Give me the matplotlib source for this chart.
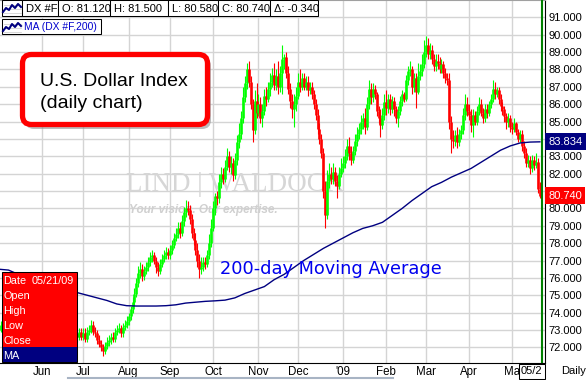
import numpy as np
import pandas as pd
import matplotlib
matplotlib.use('Agg')
import matplotlib.pyplot as plt
from matplotlib.patches import Rectangle, FancyBboxPatch
from matplotlib.lines import Line2D
from matplotlib.transforms import IdentityTransform, blended_transform_factory

plt.rcParams['font.family'] = ['Liberation Sans', 'DejaVu Sans']

W, H = 587, 380

# trading days, 05/01/08 .. 05/21/09
dates = pd.bdate_range('2008-05-01', '2009-05-21')

first_open = 72.8
close = [
    73.0, 73.3, 73.1, 72.8, 73.3, 73.4, 72.9, 72.8, 73.2, 73.2, 73.3, 72.6, 72.5, 72.0, 71.9, 72.2, 72.0, 72.0, 72.3, 72.6, 73.1, 73.1,
    72.6, 73.0, 73.2, 73.7, 72.2, 72.8, 73.6, 73.3, 74.0, 73.8, 73.5, 73.3, 73.0, 73.5, 72.7, 73.1, 73.3, 72.8, 72.6, 72.9, 72.6,
    72.8, 72.5, 72.9, 73.0, 73.3, 72.9, 72.8, 72.4, 72.2, 72.0, 71.8, 72.1, 72.3, 72.4, 72.6, 72.5, 72.9, 73.0, 73.1, 72.8, 73.2, 73.3, 73.5,
    73.8, 74.2, 74.6, 75.1, 75.7, 76.3, 76.5, 76.1, 76.4, 76.6, 76.9, 77.2, 77.3, 77.0, 76.6, 76.4, 76.8, 77.1, 77.3, 77.5, 77.3,
    77.6, 77.9, 78.3, 78.5, 78.9, 78.6, 79.3, 79.8, 80.0, 79.9, 79.4, 78.6, 78.2, 77.6, 77.0, 76.5, 76.6, 76.9, 76.8, 77.3, 78.0, 78.9,
    80.0, 80.7, 80.6, 81.5, 82.0, 81.7, 82.4, 83.0, 82.4, 82.6, 81.9, 82.8, 83.8, 84.3, 85.2, 86.4, 87.2, 88.0, 87.3, 86.0, 84.5, 86.2, 85.5,
    86.0, 85.2, 85.6, 86.5, 86.3, 86.9, 87.3, 87.7, 87.1, 87.6, 87.0, 87.8, 88.6, 88.7, 87.8, 86.9, 86.2, 85.7, 86.0, 86.5,
    87.3, 87.0, 87.5, 87.0, 87.3, 86.8, 87.0, 86.6, 86.0, 85.4, 84.6, 84.0, 83.2, 81.0, 79.6, 81.6, 82.0, 81.7, 82.1, 81.6, 81.3, 82.0, 82.3,
    82.6, 83.0, 83.6, 83.2, 82.8, 83.3, 83.9, 84.3, 84.6, 85.0, 85.2, 84.7, 86.0, 86.9, 86.4, 86.9, 86.6, 85.6, 85.2, 84.8, 85.4, 86.1,
    85.8, 86.3, 85.7, 86.2, 85.7, 85.2, 85.6, 86.2, 86.6, 86.3, 87.4, 87.9, 88.0, 87.0, 87.5, 86.7, 87.6, 87.9, 88.3, 89.0,
    89.4, 88.9, 89.1, 88.6, 88.2, 88.5, 88.4, 88.0, 88.3, 87.8, 87.5, 87.4, 85.0, 84.0, 83.9, 84.2, 83.8, 84.3, 84.5, 85.4, 86.0, 85.6,
    85.4, 84.8, 85.4, 85.0, 85.6, 86.0, 85.5, 85.2, 85.7, 85.5, 86.0, 86.3, 86.9, 86.6, 86.8, 86.3, 85.9, 85.7, 85.3, 85.0, 85.2, 84.7,
    84.6, 84.9, 84.4, 84.0, 84.3, 83.6, 83.2, 82.6, 82.8, 82.3, 82.8, 82.5, 82.7, 81.12, 80.74,
]
high = [
    73.3, 73.5, 73.5, 73.3, 73.5, 73.7, 73.6, 73.1, 73.4, 73.5, 73.6, 73.4, 72.9, 72.7, 72.3, 72.5, 72.4, 72.3, 72.6, 72.8, 73.3, 73.4,
    73.3, 73.2, 73.4, 73.9, 73.9, 73.0, 73.8, 73.8, 74.2, 74.2, 74.0, 73.7, 73.5, 73.7, 73.6, 73.3, 73.5, 73.5, 73.0, 73.1, 73.1,
    73.1, 73.1, 73.2, 73.3, 73.6, 73.5, 73.2, 73.0, 72.7, 72.4, 72.2, 72.3, 72.6, 72.7, 72.8, 72.9, 73.1, 73.3, 73.4, 73.3, 73.4, 73.6, 73.8,
    74.0, 74.4, 74.9, 75.4, 76.0, 76.7, 76.9, 76.8, 76.7, 76.9, 77.2, 77.5, 77.6, 77.5, 77.2, 76.9, 77.1, 77.4, 77.6, 77.8, 77.7,
    77.9, 78.2, 78.6, 78.9, 79.2, 79.2, 79.6, 80.1, 80.5, 80.4, 80.2, 79.7, 78.9, 78.6, 78.0, 77.4, 77.2, 77.2, 77.2, 77.6, 78.5, 79.4,
    80.4, 80.9, 81.0, 82.0, 82.4, 82.3, 82.8, 83.5, 83.3, 83.0, 82.9, 83.2, 84.2, 84.9, 85.6, 87.0, 87.6, 88.4, 88.5, 87.6, 86.3, 86.8, 87.2,
    86.6, 86.4, 86.0, 86.9, 87.0, 87.3, 87.8, 88.1, 88.4, 88.0, 88.5, 88.2, 89.4, 88.9, 89.0, 88.2, 87.2, 86.6, 86.6, 87.0,
    87.8, 88.0, 87.8, 87.8, 87.6, 87.6, 87.3, 87.3, 86.8, 86.3, 85.7, 84.9, 84.3, 83.5, 81.6, 82.2, 82.6, 82.4, 82.6, 82.4, 81.9, 82.4, 82.9,
    83.0, 83.4, 84.0, 84.1, 83.6, 83.6, 84.3, 84.7, 84.9, 85.4, 85.5, 85.8, 86.4, 87.4, 87.2, 87.2, 87.1, 86.7, 85.9, 85.7, 85.8, 86.6,
    86.8, 86.6, 86.6, 86.5, 86.4, 85.9, 85.9, 86.5, 86.8, 86.7, 87.7, 88.2, 88.5, 88.2, 87.8, 87.8, 88.4, 88.3, 88.9, 89.7,
    89.9, 89.8, 89.5, 89.4, 88.9, 88.9, 88.9, 88.7, 88.6, 88.5, 88.1, 87.8, 87.8, 85.3, 84.5, 84.5, 84.7, 84.6, 84.8, 85.8, 86.6, 86.4,
    86.0, 85.7, 85.7, 85.6, 85.9, 86.4, 86.3, 85.8, 86.0, 86.0, 86.2, 86.6, 87.4, 87.3, 87.0, 87.0, 86.6, 86.1, 85.9, 85.5, 85.5, 85.4,
    85.0, 85.2, 85.0, 84.6, 84.5, 84.5, 83.9, 83.5, 83.1, 83.0, 83.1, 83.0, 83.2, 82.9, 81.5,
]
low = [
    72.7, 72.9, 72.9, 72.6, 72.7, 73.1, 72.7, 72.6, 72.6, 73.0, 73.0, 72.4, 72.3, 71.8, 71.7, 71.8, 71.8, 71.8, 71.9, 72.1, 72.4, 72.8,
    72.4, 72.4, 72.8, 73.0, 72.0, 72.0, 72.6, 73.1, 73.1, 73.6, 73.3, 73.1, 72.8, 72.8, 72.5, 72.5, 72.9, 72.6, 72.3, 72.4, 72.4,
    72.4, 72.3, 72.3, 72.7, 72.8, 72.7, 72.6, 72.2, 72.0, 71.8, 71.5, 71.6, 71.9, 72.1, 72.2, 72.3, 72.3, 72.7, 72.8, 72.6, 72.6, 73.0, 73.1,
    73.3, 73.6, 74.0, 74.4, 74.9, 75.5, 76.0, 75.8, 75.9, 76.2, 76.4, 76.7, 76.9, 76.8, 76.3, 76.1, 76.2, 76.6, 76.9, 77.1, 77.1,
    77.1, 77.4, 77.7, 78.1, 78.3, 78.3, 78.4, 79.0, 79.5, 79.6, 79.1, 78.3, 77.9, 77.3, 76.6, 76.0, 76.2, 76.4, 76.5, 76.6, 77.1, 77.8,
    78.7, 79.6, 80.2, 80.3, 81.2, 81.4, 81.5, 82.2, 82.1, 82.0, 81.6, 81.7, 82.5, 83.5, 84.0, 84.9, 86.1, 86.9, 87.0, 85.7, 83.8, 84.3, 85.2,
    85.3, 84.9, 84.7, 85.4, 85.9, 86.1, 86.5, 87.0, 86.8, 86.8, 86.6, 86.7, 86.6, 88.0, 87.5, 86.6, 85.8, 85.2, 84.7, 85.6,
    86.3, 86.7, 86.8, 86.8, 86.8, 86.5, 86.6, 86.3, 85.7, 85.1, 84.3, 83.7, 82.9, 80.6, 78.9, 79.4, 81.2, 81.4, 81.4, 81.3, 80.6, 81.1, 81.8,
    82.1, 82.3, 82.8, 82.8, 82.5, 82.6, 83.1, 83.6, 84.0, 84.3, 84.6, 84.3, 84.5, 85.7, 86.0, 86.1, 86.3, 85.3, 84.9, 84.1, 84.6, 85.1,
    85.4, 85.5, 85.4, 85.5, 85.3, 84.9, 84.7, 85.4, 85.9, 86.1, 86.2, 87.1, 87.6, 86.6, 86.7, 85.8, 86.6, 87.4, 87.6, 88.1,
    88.7, 88.6, 88.6, 88.3, 87.9, 87.9, 88.0, 87.8, 87.8, 87.5, 87.2, 87.1, 84.6, 83.2, 83.5, 83.6, 83.5, 83.6, 84.0, 84.3, 85.1, 85.3,
    85.1, 84.4, 84.1, 84.8, 84.8, 85.4, 85.3, 84.9, 85.0, 85.2, 85.3, 85.8, 86.1, 86.3, 86.4, 86.0, 85.6, 85.4, 85.0, 84.6, 84.7, 84.4,
    84.3, 84.4, 84.2, 83.8, 83.8, 83.3, 82.9, 82.4, 82.4, 82.0, 82.1, 82.2, 82.3, 80.9, 80.58,
]

# 200-day moving average, read every 5th bar
ma_step = 5
ma = [
    76.5, 76.45, 76.2, 75.95, 75.7, 75.5, 75.35, 75.25, 75.15, 75.0, 74.85, 74.7, 74.5, 74.4,
    74.38, 74.38, 74.38, 74.4, 74.45, 74.55, 74.6, 74.65, 74.68, 74.72, 74.85, 75.1, 75.3, 75.5,
    75.9, 76.2, 76.6, 77.0, 77.35, 77.7, 78.0, 78.3, 78.6, 78.85, 79.0, 79.2, 79.6, 80.0,
    80.45, 80.85, 81.25, 81.5, 81.8, 82.05, 82.3, 82.65, 83.0, 83.35, 83.6, 83.77, 83.82, 83.834,
]

# last one is cut short by the date box, as in the original
month_labels = ['Jun', 'Jul', 'Aug', 'Sep', 'Oct', 'Nov', 'Dec', "'09", 'Feb', 'Mar', 'Apr', 'Ma']

GREEN = '#00ff00'
RED = '#ff0000'
NAVY = '#000080'

idx = np.arange(len(close))
c = np.array(close)
o = np.r_[first_open, c[:-1]]
cols = np.where(c >= o, GREEN, RED)

fig = plt.figure(figsize=(W / 100, H / 100), dpi=100)
ax = fig.add_axes([0, 17 / H, 545 / W, 363 / H])
ax.set_xlim(0.66, 277.6)
ax.set_ylim(71.10, 92.0)
ax.set_axisbelow(True)

# grid + axis labels (84 and 81 sit under the value boxes)
month_pos = [i for i in range(1, len(dates)) if dates[i].month != dates[i - 1].month]
ax.set_xticks(month_pos)
ax.set_xticklabels(month_labels, fontsize=8.3)
ax.set_yticks(range(72, 92))
ax.set_yticklabels(['' if v in (81, 84) else f'{v:.3f}' for v in range(72, 92)], fontsize=8)
ax.grid(True, color='#d4d4d4', lw=1)
ax.yaxis.tick_right()
ax.tick_params(axis='y', length=0, pad=2.2)
ax.tick_params(axis='x', length=0, pad=2.5)
ax.spines['left'].set_visible(False)
ax.spines['top'].set_color('#a0a0a0')
ax.spines['right'].set_color('black')
ax.spines['bottom'].set_color('black')

# watermark
ax.text(0.232, 0.475, 'LIND | WALDOCK', transform=ax.transAxes, fontsize=19.5,
        family='Liberation Serif', color='#d6d6d6', zorder=0.8)
ax.text(0.236, 0.413, 'Your vision. Our expertise.', transform=ax.transAxes, fontsize=8.5,
        weight='bold', style='italic', color='#d0d0d0', zorder=0.8)

# candles
ax.vlines(idx, low, high, colors=cols, lw=0.8, zorder=2)
ax.vlines(idx, np.minimum(o, c), np.maximum(o, c), colors=cols, lw=1.9, zorder=2)

# moving average
ma_x = np.arange(len(ma)) * ma_step
ax.plot(ma_x, ma, color=NAVY, lw=1.0, zorder=3)

ax.axvline(276.1, color='#008000', lw=1.5, zorder=4)

yt = blended_transform_factory(ax.transAxes, ax.transData)
ax.text(1.006, ma[-1], f'{ma[-1]:.3f}', transform=yt, fontsize=8, color='white', va='center',
        ha='left', zorder=10, clip_on=False,
        bbox=dict(boxstyle='square,pad=0.3', fc=NAVY, ec='none'))
ax.text(1.006, close[-1], f'{close[-1]:.3f}', transform=yt, fontsize=8, color='white', va='center',
        ha='left', zorder=10, clip_on=False,
        bbox=dict(boxstyle='square,pad=0.3', fc=RED, ec='none'))

ax.text(220 / 545, 0.245, '200-day Moving Average', transform=ax.transAxes, fontsize=12.8,
        family='DejaVu Sans', color='#0000ee', zorder=6)

ID = IdentityTransform()


def rect(x0, y0, x1, y1, fc, ec='black', lw=0.75, z=5):
    p = Rectangle((x0, H - y1), x1 - x0, y1 - y0, fc=fc, ec=ec, lw=lw, transform=ID, zorder=z)
    fig.add_artist(p)
    return p


def ftext(x, y, s, **kw):
    kw.setdefault('va', 'center')
    kw.setdefault('zorder', 7)
    return fig.text(x / W, 1 - y / H, s, **kw)


def icon(x0, y0):
    xs = np.array([0, 3, 6, 9, 12, 15, 18]) + x0
    ys = np.array([11, 7, 9, 4, 7, 3, 6]) + y0
    for k in range(1, 4):
        fig.add_artist(Line2D([x0 + 1, x0 + 18], [H - (y0 + 4 * k), H - (y0 + 4 * k)],
                              color='#c8c8c8', lw=0.5, transform=ID, zorder=6))
    fig.add_artist(Line2D(xs, H - ys, color=NAVY, lw=1.5, transform=ID, zorder=6))


# header row 1
hdr = [(2, 22, ''), (22, 58, 'DX #F'), (58, 110, 'O: 81.120'), (110, 168, 'H: 81.500'),
       (168, 218, 'L: 80.580'), (218, 270, 'C: 80.740'), (270, 318, 'Δ: -0.340')]
for x0, x1, s in hdr:
    rect(x0, 0, x1, 16, 'white')
    if s:
        ftext(x0 + 4, 8.5, s, fontsize=8, color='black')
icon(3, 1)

# header row 2
rect(2, 19, 101, 34, 'white')
icon(3, 20)
ftext(24, 27, 'MA (DX #F,200)', fontsize=7.4, color='#0000cc')

# title box
fig.add_artist(FancyBboxPatch((25, H - 129), 186, 72, boxstyle='round,pad=0,rounding_size=9',
                              fc='#909090', ec='none', transform=ID, zorder=5, alpha=0.6))
fig.add_artist(FancyBboxPatch((22.5, H - 124.5), 185, 70, boxstyle='round,pad=0,rounding_size=9',
                              fc='white', ec=RED, lw=3.8, transform=ID, zorder=6))
ftext(40, 86, 'U.S. Dollar Index', fontsize=14, va='baseline', color='black')
ftext(40, 108, '(daily chart)', fontsize=14, va='baseline', color='black')

# data window
rect(2, 272, 77, 362, RED)
rect(2.5, 347, 76.5, 361.5, NAVY, ec='none')
rows = ['Date', 'Open', 'High', 'Low', 'Close', 'MA']
for k, s in enumerate(rows):
    ftext(3.5, 281 + 15 * k, s, fontsize=7.8, color='white')
ftext(74, 281, '05/21/09', fontsize=7.8, color='white', ha='right')

# bottom strip
fig.add_artist(Line2D([68, 393], [H - 378, H - 378], color='#a8b4c4', lw=1.5, transform=ID, zorder=5))
rect(519, 364, 545, 379, 'white', z=8)
ftext(521, 371.5, '05/2', fontsize=8, color='black', zorder=9)
ftext(561, 371.5, 'Daily', fontsize=8, color='black')

fig.savefig('out.png', dpi=100)
